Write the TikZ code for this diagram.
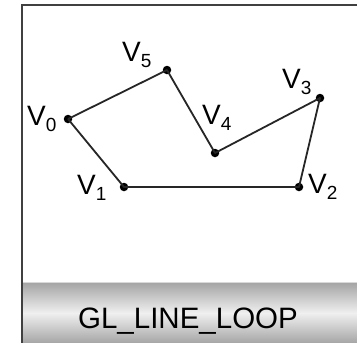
\documentclass[tikz,border=0pt]{standalone}
\usepackage{fontspec}
\setmainfont{Liberation Sans}
\newcommand\vsub[1]{V\raisebox{-6pt}{\fontsize{19}{19}\selectfont #1}}
\begin{document}
\begin{tikzpicture}[x=1pt,y=-1pt,
  vdot/.style={circle,fill=black,inner sep=0pt,minimum size=8.5pt},
  vlabel/.style={anchor=base west,inner sep=0pt,font=\fontsize{28}{28}\selectfont},
  edge/.style={line width=1.8pt,draw=black!85,line join=round},
  frame/.style={line width=2pt,draw=black!75}]
\useasboundingbox (0,0) rectangle (357,343);
\fill[white] (0,0) rectangle (357,343);
% bottom band (vertical gradient drawn as stripes)
\foreach \i in {0,...,61} {
  \pgfmathsetmacro\p{6+30*abs(\i-31)/31}
  \fill[black!\p] (23,282+\i) rectangle (357,283.5+\i);
}
\draw[black!15,line width=0.8pt] (23,282) -- (357,282);
\node[font=\fontsize{29.5}{29.5}\selectfont,anchor=base,inner sep=0pt] (title) at (188,328) {GL\_LINE\_LOOP};
% frame
\draw[frame] (22,343) -- (22,5) -- (357,5);
% vertices
\node[vdot] (v0) at (68,119) {};
\node[vdot] (v1) at (124,187) {};
\node[vdot] (v2) at (299,187) {};
\node[vdot] (v3) at (320,98) {};
\node[vdot] (v4) at (215,153) {};
\node[vdot] (v5) at (167,70) {};
\draw[edge] (v0.center) -- (v1.center) -- (v2.center) -- (v3.center) -- (v4.center) -- (v5.center) -- (v0.center);
% labels
\node[vlabel] (l0) at (27,125) {\vsub{0}};
\node[vlabel] (l1) at (77,194) {\vsub{1}};
\node[vlabel] (l2) at (308,193) {\vsub{2}};
\node[vlabel] (l3) at (282,88) {\vsub{3}};
\node[vlabel] (l4) at (202,124) {\vsub{4}};
\node[vlabel] (l5) at (122,61) {\vsub{5}};
\end{tikzpicture}
\end{document}
